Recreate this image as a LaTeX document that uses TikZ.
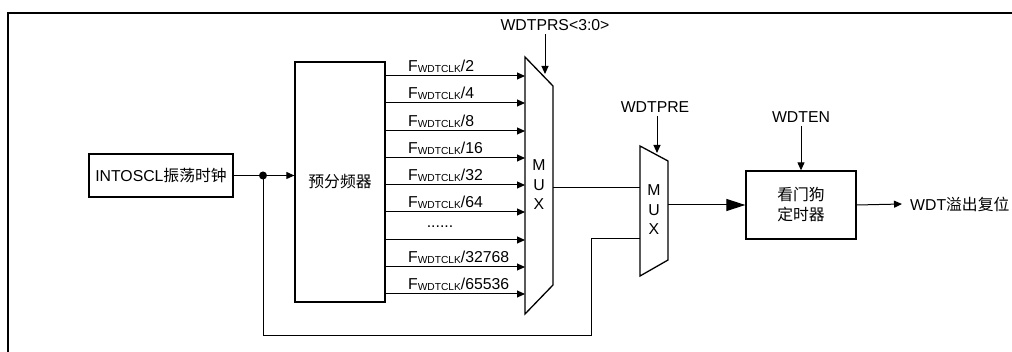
\documentclass[tikz,border=0pt]{standalone}
\usepackage{fontspec}
\setmainfont{Liberation Sans}
\newfontfamily\cjk{Noto Sans CJK SC}
\usetikzlibrary{arrows.meta,positioning}
\newcommand{\fwdt}[1]{F\raisebox{-1pt}{\fontsize{10.2}{12}\selectfont WDTCLK}/#1}

\tikzset{
  blk/.style={draw,line width=1.3pt,inner sep=0pt},
  sig/.style={line width=1pt},
  arr/.style={sig,-{Triangle[length=8pt,width=7pt]}},
  muxtxt/.style={align=center,inner sep=0pt},
}

\begin{document}
\begin{tikzpicture}[x=1pt,y=-1pt,font=\fontsize{15.8}{19.5}\selectfont]
\useasboundingbox (0,0) rectangle (1012,352);
% frame
\draw[line width=2pt] (8,352) -- (8,13) -- (1012,13);

% clock source and prescaler
\node[blk,minimum width=144pt,minimum height=43pt] (osc) at (161,175.5) {INTOSCL{\cjk 振荡时钟}};
\node[blk,minimum width=90pt,minimum height=240pt] (presc) at (340,182) {{\cjk 预分频器}};
\fill (263,175.5) circle (4pt) coordinate (dot);
\draw[sig] (osc) -- (dot);
\draw[arr] (dot) -- (dot -| presc.west);

% first mux
\draw[line width=1.3pt] (525,57) -- (553,86) -- (553,285) -- (525,314) -- cycle;
\node[muxtxt] (mux1) at (539,185) {M\\U\\X};
\coordinate (m1in) at (525,0);
\coordinate (m1out) at (553,188);
\coordinate (m1sel) at (545,74);
\foreach \y in {76,103,131,158,185,212,240,267,294}
  \draw[arr] (presc.east |- 0,\y) -- (m1in |- 0,\y);
\foreach \y/\t in {76/2,103/4,131/8,158/16,185/32,212/64,267/32768,294/65536}
  \node[anchor=base west,inner sep=0pt] (lab\t) at (408,\y-4) {\fwdt{\t}};
\node[inner sep=0pt] (dots) at (440,227) {......};
\node (prs) at (555,25) {WDTPRS<3:0>};
\draw[arr] (prs.south -| m1sel) -- (m1sel);

% second mux
\draw[line width=1.3pt] (640,146) -- (668,161) -- (668,260) -- (640,276) -- cycle;
\node[muxtxt] (mux2) at (654,210) {M\\U\\X};
\coordinate (m2sel) at (657,153);
\coordinate (m2inA) at (640,188);
\coordinate (m2inB) at (640,239);
\coordinate (m2out) at (668,205);
\node (pre) at (655,107) {WDTPRE};
\draw[arr] (pre.south -| m2sel) -- (m2sel);
\draw[sig] (m1out) -- (m2inA);
\draw[sig] (dot) -- (dot |- 0,336) -| (591,239) -- (m2inB);

% watchdog timer
\node[blk,minimum width=110pt,minimum height=68pt,align=center] (wdt) at (801,205) {{\cjk 看门狗}\\[0.5pt]{\cjk 定时器}};
\node (en) at (801,117) {WDTEN};
\draw[arr] (en) -- (wdt);
\draw[sig,-{Triangle[length=19pt,width=12pt]}] (m2out) -- (wdt.west);
\node[anchor=west,inner sep=0pt] (rst) at (910,204) {WDT{\cjk 溢出复位}};
\draw[arr] (wdt.east) -- ([xshift=-8pt]rst.west);
\end{tikzpicture}
\end{document}
